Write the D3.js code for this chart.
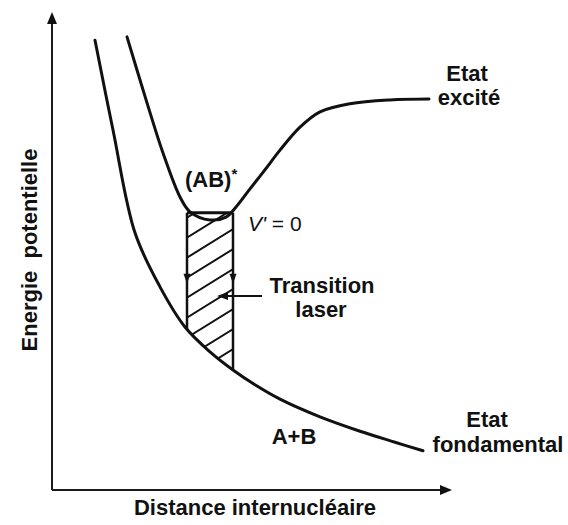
<!DOCTYPE html>
<html>
<head>
<meta charset="utf-8">
<script src="https://cdn.jsdelivr.net/npm/d3@7"></script>
<style>
body { margin: 0; background: #fff; }
text { font-family: "Liberation Sans", Arial, sans-serif; fill: #111; }
</style>
</head>
<body>
<div id="chart"></div>
<script>
// distance internucléaire (unités arbitraires 0-100) et énergie (0-100)
const fondX = [10.75, 15.25, 20.75, 27.0, 33.25, 39.5, 45.25, 50.75, 57.0, 67.0, 77.0, 85.75, 92.75];
const fondE = [94.1, 75.3, 53.8, 42.5, 34.1, 28.9, 25.1, 22.0, 19.0, 15.3, 12.3, 10.0, 8.2];

const excX = [18.75, 23.75, 27.75, 32.0, 34.5, 39.5, 43.5, 46.0, 49.5, 53.25, 57.0, 62.0, 67.0, 74.5, 84.5, 94.25];
const excE = [94.8, 81.0, 70.5, 61.3, 58.2, 56.5, 57.1, 59.2, 63.0, 67.0, 71.1, 75.9, 79.1, 80.8, 81.6, 81.8];

// niveau v' = 0 et bornes de la transition
const niveauV0 = 58.0;
const transX = [33.75, 45.25];
const flecheE = 44.0;   // hauteur des petites flèches sur les verticales

const W = 568, H = 525;
const svg = d3.select("#chart").append("svg")
	.attr("width", W)
	.attr("height", H);

const x = d3.scaleLinear().domain([0, 100]).range([52, 452]);
const y = d3.scaleLinear().domain([0, 100]).range([490, 12]);

const ligne = d3.line()
	.x(d => x(d[0]))
	.y(d => y(d[1]))
	.curve(d3.curveCatmullRom.alpha(0.5));

const fond = fondX.map((v, i) => [v, fondE[i]]);
const exc = excX.map((v, i) => [v, excE[i]]);

// axes avec flèches
const axes = svg.append("g").attr("stroke", "#1a1a1a").attr("stroke-width", 2).attr("fill", "none");
axes.append("line").attr("x1", x(0)).attr("y1", y(0)).attr("x2", x(0)).attr("y2", y(100) + 8);
axes.append("line").attr("x1", x(0)).attr("y1", y(0)).attr("x2", x(100) - 8).attr("y2", y(0));
svg.append("path")
	.attr("d", `M${x(0)},${y(100)} L${x(0) - 5},${y(100) + 12} L${x(0) + 5},${y(100) + 12} Z`)
	.attr("fill", "#111");
svg.append("path")
	.attr("d", `M${x(100)},${y(0)} L${x(100) - 12},${y(0) - 5} L${x(100) - 12},${y(0) + 5} Z`)
	.attr("fill", "#111");

// courbe fondamentale
const cheminFond = svg.append("path")
	.attr("d", ligne(fond))
	.attr("fill", "none")
	.attr("stroke", "#111")
	.attr("stroke-width", 3)
	.attr("stroke-linecap", "round");

// recherche du y de la courbe fondamentale pour un x donné
const noeud = cheminFond.node();
const longueur = noeud.getTotalLength();
const echant = d3.range(0, longueur, 0.5).map(l => noeud.getPointAtLength(l));
function ySurFond(px) {
	let best = echant[0];
	echant.forEach(p => { if (Math.abs(p.x - px) < Math.abs(best.x - px)) best = p; });
	return best.y;
}

const xL = x(transX[0]), xR = x(transX[1]), yTop = y(niveauV0);
const yL = ySurFond(xL), yR = ySurFond(xR);

// zone hachurée
const bord = echant.filter(p => p.x > xL && p.x < xR).sort((a, b) => b.x - a.x);
const poly = [[xL, yTop], [xR, yTop], [xR, yR]].concat(bord.map(p => [p.x, p.y])).concat([[xL, yL]]);
svg.append("clipPath").attr("id", "zone")
	.append("path")
	.attr("d", "M" + poly.map(p => p.join(",")).join("L") + "Z");

const pente = 0.62, pas = 20;
const hachures = d3.range(-1, 10).map(k => yTop + 8 + k * pas);
svg.append("g")
	.attr("clip-path", "url(#zone)")
	.selectAll("line")
	.data(hachures)
	.join("line")
		.attr("x1", xL - 5)
		.attr("y1", d => d)
		.attr("x2", xR + 5)
		.attr("y2", d => d - pente * (xR - xL + 10))
		.attr("stroke", "#111")
		.attr("stroke-width", 2);

// verticales de la transition
svg.append("g").attr("stroke", "#111").attr("stroke-width", 2.5)
	.selectAll("line")
	.data([[xL, yL], [xR, yR]])
	.join("line")
		.attr("x1", d => d[0]).attr("y1", yTop)
		.attr("x2", d => d[0]).attr("y2", d => d[1]);

svg.append("g")
	.selectAll("path")
	.data([xL, xR])
	.join("path")
		.attr("d", d => `M${d - 3.5},${y(flecheE) - 6} L${d + 3.5},${y(flecheE) - 6} L${d},${y(flecheE) + 4} Z`)
		.attr("fill", "#111");

// courbe excitée
svg.append("path")
	.attr("d", ligne(exc))
	.attr("fill", "none")
	.attr("stroke", "#111")
	.attr("stroke-width", 3)
	.attr("stroke-linecap", "round");

// niveau v' = 0
svg.append("line")
	.attr("x1", xL).attr("y1", yTop)
	.attr("x2", xR).attr("y2", yTop)
	.attr("stroke", "#111")
	.attr("stroke-width", 3);

// flèche "Transition laser"
const yFl = 296;
svg.append("line")
	.attr("x1", 262).attr("y1", yFl)
	.attr("x2", 226).attr("y2", yFl)
	.attr("stroke", "#111").attr("stroke-width", 1.8);
svg.append("path")
	.attr("d", `M217,${yFl} L228,${yFl - 4} L228,${yFl + 4} Z`)
	.attr("fill", "#111");

// textes
function texte(t, px, py, opts = {}) {
	return svg.append("text")
		.attr("x", px).attr("y", py)
		.attr("text-anchor", opts.anchor || "middle")
		.attr("font-size", opts.size || 22)
		.attr("font-weight", opts.weight || "bold")
		.text(t);
}

const ab = texte("(AB)", 185, 187, {anchor: "start"});
ab.append("tspan").attr("font-size", 15).attr("dy", -8).text("*");

const v0 = svg.append("text")
	.attr("x", 248).attr("y", 231)
	.attr("font-size", 21);
v0.append("tspan").attr("font-style", "italic").text("V'");
v0.append("tspan").text(" = 0");

texte("Transition", 322, 293);
texte("laser", 321, 317);
texte("Etat", 467, 81);
texte("excité", 469, 105);
texte("Etat", 487, 427);
texte("fondamental", 498, 452);
texte("A+B", 294, 444);
texte("Distance internucléaire", 255, 515);

svg.append("text")
	.attr("transform", "translate(37,250) rotate(-90)")
	.attr("text-anchor", "middle")
	.attr("font-size", 22)
	.attr("font-weight", "bold")
	.attr("xml:space", "preserve")
	.text("Energie  potentielle");
</script>
</body>
</html>
